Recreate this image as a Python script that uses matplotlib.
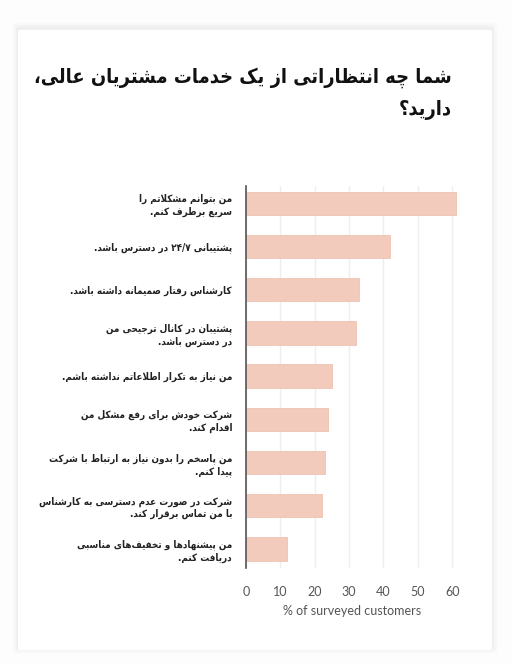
import re
import matplotlib
matplotlib.use("Agg")
import matplotlib.pyplot as plt
from matplotlib.patches import FancyBboxPatch

# data
title = "شما چه انتظاراتی از یک خدمات مشتریان عالی،\nدارید؟"
labels = [
    "من بتوانم مشکلاتم را\nسریع برطرف کنم.",
    "پشتیبانی ۲۴/۷ در دسترس باشد.",
    "کارشناس رفتار صمیمانه داشته باشد.",
    "پشتیبان در کانال ترجیحی من\nدر دسترس باشد.",
    "من نیاز به تکرار اطلاعاتم نداشته باشم.",
    "شرکت خودش برای رفع مشکل من\nاقدام کند.",
    "من پاسخم را بدون نیاز به ارتباط با شرکت\nپیدا کنم.",
    "شرکت در صورت عدم دسترسی به کارشناس\nبا من تماس برقرار کند.",
    "من پیشنهادها و تخفیف\u200cهای مناسبی\nدریافت کنم.",
]
values = [61, 42, 33, 32, 25, 24, 23, 22, 12]
xticks = [0, 10, 20, 30, 40, 50, 60]
xlabel = "% of surveyed customers"

# arabic presentation forms: isolated, final, initial, medial
FORMS = {
    "ء": (0xFE80, None, None, None),
    "آ": (0xFE81, 0xFE82, None, None),
    "أ": (0xFE83, 0xFE84, None, None),
    "ؤ": (0xFE85, 0xFE86, None, None),
    "إ": (0xFE87, 0xFE88, None, None),
    "ئ": (0xFE89, 0xFE8A, 0xFE8B, 0xFE8C),
    "ا": (0xFE8D, 0xFE8E, None, None),
    "ب": (0xFE8F, 0xFE90, 0xFE91, 0xFE92),
    "ة": (0xFE93, 0xFE94, None, None),
    "ت": (0xFE95, 0xFE96, 0xFE97, 0xFE98),
    "ث": (0xFE99, 0xFE9A, 0xFE9B, 0xFE9C),
    "ج": (0xFE9D, 0xFE9E, 0xFE9F, 0xFEA0),
    "ح": (0xFEA1, 0xFEA2, 0xFEA3, 0xFEA4),
    "خ": (0xFEA5, 0xFEA6, 0xFEA7, 0xFEA8),
    "د": (0xFEA9, 0xFEAA, None, None),
    "ذ": (0xFEAB, 0xFEAC, None, None),
    "ر": (0xFEAD, 0xFEAE, None, None),
    "ز": (0xFEAF, 0xFEB0, None, None),
    "س": (0xFEB1, 0xFEB2, 0xFEB3, 0xFEB4),
    "ش": (0xFEB5, 0xFEB6, 0xFEB7, 0xFEB8),
    "ص": (0xFEB9, 0xFEBA, 0xFEBB, 0xFEBC),
    "ض": (0xFEBD, 0xFEBE, 0xFEBF, 0xFEC0),
    "ط": (0xFEC1, 0xFEC2, 0xFEC3, 0xFEC4),
    "ظ": (0xFEC5, 0xFEC6, 0xFEC7, 0xFEC8),
    "ع": (0xFEC9, 0xFECA, 0xFECB, 0xFECC),
    "غ": (0xFECD, 0xFECE, 0xFECF, 0xFED0),
    "ف": (0xFED1, 0xFED2, 0xFED3, 0xFED4),
    "ق": (0xFED5, 0xFED6, 0xFED7, 0xFED8),
    "ك": (0xFED9, 0xFEDA, 0xFEDB, 0xFEDC),
    "ل": (0xFEDD, 0xFEDE, 0xFEDF, 0xFEE0),
    "م": (0xFEE1, 0xFEE2, 0xFEE3, 0xFEE4),
    "ن": (0xFEE5, 0xFEE6, 0xFEE7, 0xFEE8),
    "ه": (0xFEE9, 0xFEEA, 0xFEEB, 0xFEEC),
    "و": (0xFEED, 0xFEEE, None, None),
    "ى": (0xFEEF, 0xFEF0, None, None),
    "ي": (0xFEF1, 0xFEF2, 0xFEF3, 0xFEF4),
    "پ": (0xFB56, 0xFB57, 0xFB58, 0xFB59),
    "چ": (0xFB7A, 0xFB7B, 0xFB7C, 0xFB7D),
    "ژ": (0xFB8A, 0xFB8B, None, None),
    "ک": (0xFB8E, 0xFB8F, 0xFB90, 0xFB91),
    "گ": (0xFB92, 0xFB93, 0xFB94, 0xFB95),
    "ی": (0xFBFC, 0xFBFD, 0xFBFE, 0xFBFF),
}
LAM_ALEF = {"ا": (0xFEFB, 0xFEFC), "آ": (0xFEF5, 0xFEF6),
            "أ": (0xFEF7, 0xFEF8), "إ": (0xFEF9, 0xFEFA)}


def joins_left(c):
    """char can connect to the following letter"""
    return c in FORMS and FORMS[c][2] is not None


def shape_line(line):
    out = []
    i = 0
    n = len(line)
    while i < n:
        c = line[i]
        prev = line[i - 1] if i > 0 else ""
        nxt = line[i + 1] if i + 1 < n else ""
        if c not in FORMS:
            if c != "\u200c":
                out.append(c)
            i += 1
            continue
        p = joins_left(prev)
        if c == "ل" and nxt in LAM_ALEF:
            out.append(chr(LAM_ALEF[nxt][1 if p else 0]))
            i += 2
            continue
        q = joins_left(c) and nxt in FORMS
        iso, fin, ini, med = FORMS[c]
        if p and q:
            code = med
        elif p:
            code = fin if fin else iso
        elif q:
            code = ini
        else:
            code = iso
        out.append(chr(code))
        i += 1
    vis = "".join(out)[::-1]
    vis = re.sub(r"[0-9\u06F0-\u06F9]+(?:[/.][0-9\u06F0-\u06F9]+)*",
                 lambda m: m.group(0)[::-1], vis)
    return vis


def fa(text):
    return "\n".join(shape_line(s) for s in text.split("\n"))


W, H = 512, 665
fig = plt.figure(figsize=(W / 100, H / 100), dpi=100)
fig.patch.set_facecolor("#fdfdfd")

# card with soft shadow
for k, a in enumerate([0.008, 0.012, 0.016, 0.02]):
    pad = 6 - k * 1.5
    fig.patches.append(FancyBboxPatch(
        ((18 - pad) / W, (H - 650 - pad + 2) / H),
        (474 + 2 * pad) / W, (620 + 2 * pad) / H,
        boxstyle="round,pad=0,rounding_size=0.005",
        transform=fig.transFigure, facecolor="black", alpha=a,
        edgecolor="none", zorder=0))
fig.patches.append(FancyBboxPatch(
    (18 / W, (H - 650) / H), 474 / W, 620 / H,
    boxstyle="round,pad=0,rounding_size=0.004",
    transform=fig.transFigure, facecolor="white", edgecolor="none",
    zorder=1))

ttl = fig.text(452 / W, 1 - 67 / H, fa(title), ha="right", va="top",
               fontsize=16, fontweight="bold", family="DejaVu Sans",
               fontstretch="condensed", color="#111111", linespacing=1.8)
# shrink the title so its first line spans the same width as the reference
renderer = fig.canvas.get_renderer()
wpx = ttl.get_window_extent(renderer).width
ttl.set_fontsize(16 * 418 / wpx)

ax = fig.add_axes([246 / W, (H - 568) / H, 213 / W, 382 / H])
ax.set_zorder(2)
ax.set_facecolor("none")
y = list(range(len(values)))
ax.barh(y, values, height=0.54, color="#f2cbbd", edgecolor="#efc2b2",
        linewidth=0.6, zorder=3)
ax.set_xlim(0, 62)
ax.set_ylim(8.44, -0.4)
ax.set_xticks(xticks)
ax.set_xticklabels([str(t) for t in xticks], fontsize=9, color="#555555",
                   family="Lato")
ax.tick_params(axis="x", length=0, pad=13)
ax.set_yticks(y)
ax.set_yticklabels([fa(s) for s in labels], fontsize=7.1,
                   fontweight="bold", family="DejaVu Sans",
                   fontstretch="condensed", color="#222222",
                   linespacing=1.25)
ax.tick_params(axis="y", length=0, pad=10)
ax.grid(axis="x", color="#eeeeee", linewidth=1, zorder=0)
for s in ["top", "right", "bottom"]:
    ax.spines[s].set_visible(False)
ax.spines["left"].set_color("#555555")
ax.spines["left"].set_linewidth(1.2)
ax.spines["left"].set_zorder(4)
ax.set_xlabel(xlabel, fontsize=9, color="#555555", family="Lato",
              labelpad=5)

fig.savefig("out.png", dpi=100, facecolor=fig.get_facecolor())
